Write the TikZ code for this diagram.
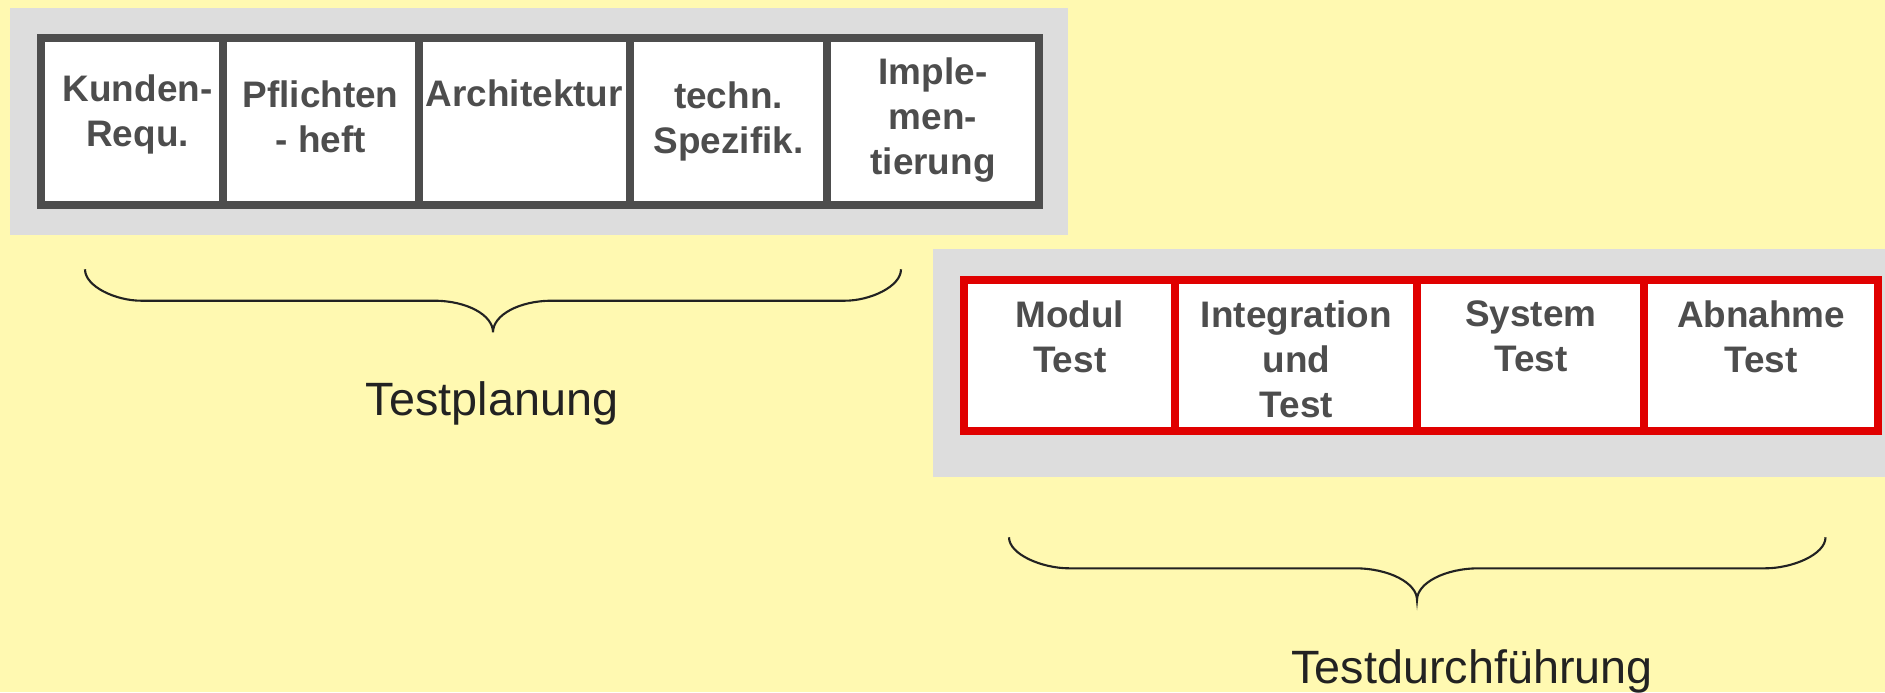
\documentclass[tikz,border=0pt]{standalone}
\usepackage{fontspec}
\setmainfont{Liberation Sans}
\usepackage{tikz}
\usetikzlibrary{positioning}

\definecolor{sheet}{HTML}{FFF9B1}
\definecolor{panelgrey}{HTML}{DDDDDD}
\definecolor{framegrey}{HTML}{4D4D4D}
\definecolor{testred}{HTML}{E00000}
\definecolor{bracegrey}{HTML}{222222}

\begin{document}
\begin{tikzpicture}[
  planbox/.style={draw=framegrey, line width=0.08cm, fill=white,
    minimum height=1.667cm, inner sep=0pt, outer sep=0pt},
  testbox/.style={draw=testred, line width=0.08cm, fill=white,
    minimum height=1.51cm, inner sep=0pt, outer sep=0pt},
  boxtext/.style={anchor=north, align=center, inner sep=0pt, text=framegrey,
    font=\fontsize{10.5}{12.8}\selectfont\bfseries},
  phase/.style={anchor=base, inner sep=0pt, text=bracegrey,
    font=\fontsize{13.3}{16}\selectfont},
  brace/.style={draw=bracegrey, line width=0.6pt}
]
% --- Sheet ---
\fill[sheet] (0,0) rectangle (18.85,6.92);
\useasboundingbox (0,0) rectangle (18.85,6.92);

% --- Planning documents (grey panel, dark frames) ---
\fill[panelgrey] (0.10,6.84) rectangle (10.68,4.57);
\node[planbox, minimum width=1.819cm, anchor=north west] (kunden) at (0.406,6.537) {};
\node[planbox, minimum width=1.962cm, right=0pt of kunden] (pflichten) {};
\node[planbox, minimum width=2.113cm, right=0pt of pflichten] (architektur) {};
\node[planbox, minimum width=1.970cm, right=0pt of architektur] (spezifik) {};
\node[planbox, minimum width=2.120cm, right=0pt of spezifik] (imple) {};
% box texts, hung from the top edge
\node[boxtext] (kundentxt) at ([xshift=0.06cm, yshift=-0.36cm]kunden.north) {Kunden-\\Requ.};
\node[boxtext] (pflichtentxt) at ([yshift=-0.415cm]pflichten.north) {Pflichten\\- heft};
\node[boxtext] (architekturtxt) at ([yshift=-0.405cm]architektur.north) {Architektur};
\node[boxtext] (spezifiktxt) at ([yshift=-0.425cm]spezifik.north) {techn.\\Spezifik.};
\node[boxtext] (impletxt) at ([yshift=-0.185cm]imple.north) {Imple-\\men-\\tierung};

% --- Test stages (grey panel, red frames) ---
\fill[panelgrey] (9.33,4.43) rectangle (18.85,2.15);
\node[testbox, minimum width=2.114cm, anchor=north west] (modul) at (9.64,4.12) {};
\node[testbox, minimum width=2.418cm, right=0pt of modul] (integration) {};
\node[testbox, minimum width=2.271cm, right=0pt of integration] (system) {};
\node[testbox, minimum width=2.337cm, right=0pt of system] (abnahme) {};
\node[boxtext] (modultxt) at ([yshift=-0.205cm]modul.north) {Modul\\Test};
\node[boxtext] (integrationtxt) at ([yshift=-0.205cm]integration.north) {Integration\\und\\Test};
\node[boxtext] (systemtxt) at ([yshift=-0.205cm]system.north) {System\\Test};
\node[boxtext] (abnahmetxt) at ([yshift=-0.205cm]abnahme.north) {Abnahme\\Test};

% --- Brace under the planning row ---
\draw[brace] (0.85,4.227) .. controls (0.85,4.054) and (1.159,3.913) .. (1.41,3.913)
  -- (4.34,3.913) .. controls (4.666,3.913) and (4.93,3.771) .. (4.93,3.597)
  .. controls (4.93,3.771) and (5.194,3.913) .. (5.52,3.913)
  -- (8.45,3.913) .. controls (8.701,3.913) and (9.01,4.054) .. (9.01,4.227);
\node[phase] (planung) at (4.92,2.763) {Testplanung};

% --- Brace under the test row ---
\draw[brace] (10.09,1.547) .. controls (10.09,1.376) and (10.421,1.237) .. (10.69,1.237)
  -- (13.55,1.237) .. controls (13.89,1.237) and (14.17,1.09) .. (14.17,0.92)
  .. controls (14.17,1.09) and (14.45,1.237) .. (14.79,1.237)
  -- (17.655,1.237) .. controls (17.924,1.237) and (18.255,1.376) .. (18.255,1.547);
\node[phase] (durchfuehrung) at (14.72,0.087) {Testdurchführung};
\end{tikzpicture}
\end{document}
